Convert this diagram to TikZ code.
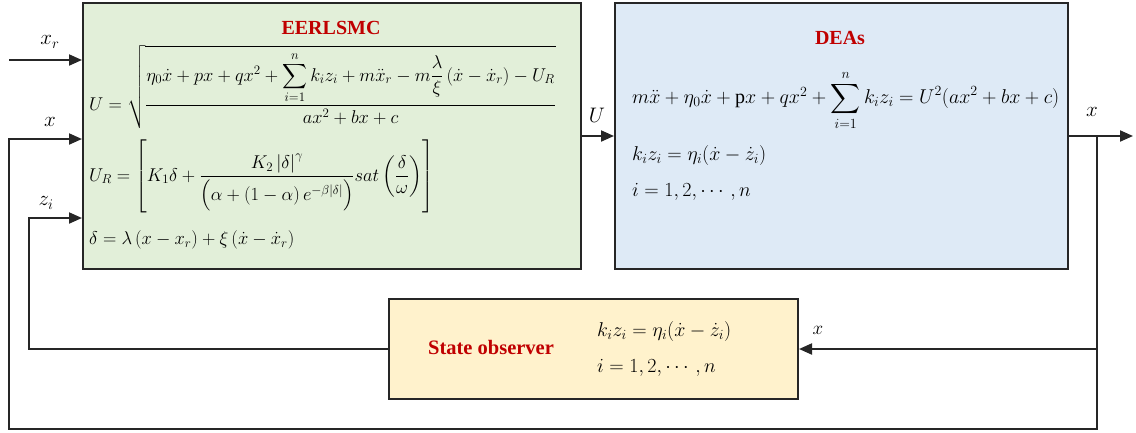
\RequirePackage{fix-cm}
\documentclass[tikz,border=0pt]{standalone}
\usepackage{amsmath}
\usepackage{fontspec}
\setmainfont{Liberation Serif}
\usetikzlibrary{arrows.meta}
\definecolor{gfill}{HTML}{E2EFD9}
\definecolor{bfill}{HTML}{DEEAF6}
\definecolor{yfill}{HTML}{FFF2CC}
\definecolor{tred}{HTML}{C00000}
\begin{document}
\begin{tikzpicture}[x=1pt,y=-1pt,
  blk/.style={draw=black!85, line width=2pt},
  wire/.style={draw=black!85, line width=2pt},
  arr/.style={wire, -{Triangle[length=13pt,width=11pt]}},
  ttl/.style={text=tred, font=\fontsize{20}{24}\selectfont\bfseries},
  eq/.style={anchor=west, inner sep=0pt, font=\fontsize{20}{24}\selectfont},
  ceq/.style={eq, font=\fontsize{18.5}{22}\selectfont},
  lbl/.style={inner sep=0pt, font=\fontsize{21}{25}\selectfont}]
\useasboundingbox (0,0) rectangle (1136,432);
% boxes
\node[blk, fill=gfill, minimum width=498pt, minimum height=266pt, anchor=north west] (ctrl) at (82,2) {};
\node[blk, fill=bfill, minimum width=453pt, minimum height=266pt, anchor=north west] (dea) at (614,2) {};
\node[blk, fill=yfill, minimum width=409pt, minimum height=100pt, anchor=north west] (obs) at (388,298) {};
% titles
\node[ttl] (t1) at (331,28) {EERLSMC};
\node[ttl] (t2) at (840,38) {DEAs};
\node[ttl, font=\fontsize{20.5}{24}\selectfont\bfseries] (t3) at (491,347) {State observer};
% controller equations
\node[ceq] (e1) at (89,87) {$U=\sqrt{\dfrac{\eta_0\dot{x}+px+qx^2+\displaystyle\sum_{i=1}^{n}k_iz_i+m\ddot{x}_r-m\dfrac{\lambda}{\xi}\left(\dot{x}-\dot{x}_r\right)-U_R}{ax^2+bx+c}}$};
\node[ceq] (e2) at (89,177) {$U_R=\left[\rule[-34pt]{0pt}{76pt}K_1\delta+\dfrac{K_2\left|\delta\right|^{\gamma}}{\Bigl(\alpha+\left(1-\alpha\right)e^{-\beta\left|\delta\right|}\Bigr)}sat\left(\dfrac{\delta}{\omega}\right)\right]$};
\node[ceq] (e3) at (89,240) {$\delta=\lambda\left(x-x_r\right)+\xi\left(\dot{x}-\dot{x}_r\right)$};
% DEA equations
\node[eq] (d1) at (632,100) {$m\ddot{x}+\eta_0\dot{x}+\mathrm{p}x+qx^2+\displaystyle\sum_{i=1}^{n}k_iz_i=U^2(ax^2+bx+c)$};
\node[eq] (d2) at (632,155) {$k_iz_i=\eta_i(\dot{x}-\dot{z}_i)$};
\node[eq] (d3) at (632,192) {$i=1,2,\cdots,n$};
% observer equations
\node[eq] (o1) at (597,331) {$k_iz_i=\eta_i(\dot{x}-\dot{z}_i)$};
\node[eq] (o2) at (597,368) {$i=1,2,\cdots,n$};
% coordinates
\coordinate (xrs) at (9,60);
\coordinate (br) at (1097,136);
\coordinate (xend) at (1133,136);
\coordinate (bl) at (9,429);
\coordinate (zl) at (29,349);
% connectors
\draw[arr] (xrs) -- (xrs -| ctrl.west);
\draw[arr] (ctrl.east |- 0,136) -- (dea.west |- 0,136);
\draw[arr] (dea.east |- xend) -- (xend);
\draw[arr] (br) |- (obs.east |- zl);
\draw[arr] (br) |- (bl) |- (ctrl.west |- 0,139);
\draw[arr] (obs.west |- zl) -- (zl) |- (ctrl.west |- 0,218);
% labels
\node[lbl] (lxr) at (50,42) {$x_r$};
\node[lbl] (lx) at (50,122) {$x$};
\node[lbl] (lz) at (46,203) {$z_i$};
\node[lbl] (lu) at (597,115) {$U$};
\node[lbl] (lxo) at (1092,112) {$x$};
\node[lbl, font=\fontsize{19}{23}\selectfont] (lxb) at (818,330) {$x$};
\end{tikzpicture}
\end{document}
